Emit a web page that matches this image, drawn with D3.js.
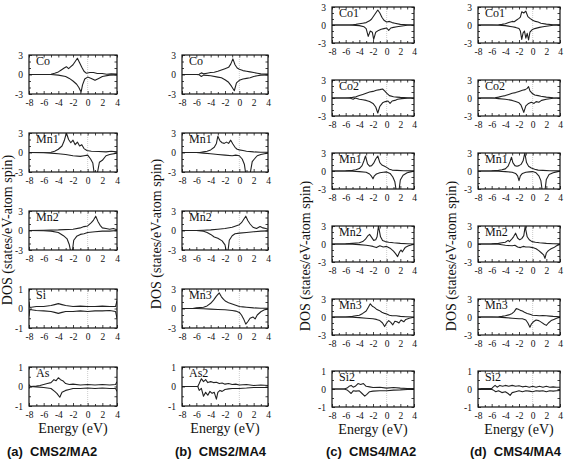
<!DOCTYPE html>
<html>
<head>
<meta charset="UTF-8">
<title>Site-projected DOS</title>
<style>
    body { margin: 0; background: #fff; }
    text { font-family: "Liberation Serif", "DejaVu Serif", serif; fill: #111; }
    .tick-lab { font-family: "Liberation Serif", serif; font-size: 9.5px; }
    .pname { font-size: 12px; }
    .xtitle { font-size: 14px; text-anchor: middle; }
    .ytitle { font-size: 14px; text-anchor: middle; }
    .cap { font-family: "Liberation Sans", Arial, sans-serif; font-weight: bold; font-size: 13px; }
</style>
</head>
<body>
<script src="https://cdn.jsdelivr.net/npm/d3@7"></script>
<svg id="svg" width="568" height="459"></svg>
<script>
    var svg = d3.select("#svg");

    const energyTicks = [-8, -6, -4, -2, 0, 2, 4];
    const energyMinor = [-7, -5, -3, -1, 1, 3];
    const dTicks = [-3, 0, 3], dMinor = [-2, -1, 1, 2];
    const spTicks = [-1, 0, 1], spMinor = [-0.5, 0.5];
    const captions = ["(a)\u00a0\u00a0CMS2/MA2", "(b)\u00a0\u00a0CMS2/MA4", "(c)\u00a0\u00a0CMS4/MA2", "(d)\u00a0\u00a0CMS4/MA4"];
    const xTitle = "Energy (eV)";
    const yTitle = "DOS (states/eV-atom spin)";

    // [energy, dos]; spin down is stored as plotted (negative)
    const A_Co_up = [[-8,0],[-6,0],[-5,0.05],[-4.5,0.2],[-4,0.4],[-3.6,0.7],[-3.2,1.0],[-2.9,1.2],[-2.6,0.9],[-2.3,1.2],[-2,1.5],[-1.7,2.0],[-1.4,2.5],[-1.1,1.8],[-0.8,1.1],[-0.5,0.5],[-0.2,0.2],[0.3,0.3],[0.8,0.3],[1.3,0.15],[2,0.15],[2.6,0.05],[3.2,0.1],[4,0.05]];
    const A_Co_dn = [[-8,0],[-5,0],[-4,-0.1],[-3,-0.3],[-2.5,-0.6],[-2,-1.0],[-1.5,-1.5],[-1.2,-2.0],[-0.9,-2.7],[-0.7,-1.6],[-0.4,-0.7],[0,-0.4],[0.5,-0.6],[1,-0.9],[1.5,-0.6],[2,-0.3],[3,-0.1],[4,-0.05]];
    const A_Mn1_up = [[-8,0],[-5,0.05],[-4.5,0.2],[-4,0.5],[-3.5,1.0],[-3.2,1.8],[-2.9,3.0],[-2.6,2.0],[-2.3,1.5],[-2,1.9],[-1.7,1.2],[-1.4,1.6],[-1.1,1.0],[-0.8,1.2],[-0.5,0.6],[-0.1,0.3],[0.5,0.2],[1.5,0.15],[2.5,0.1],[3.2,0.2],[4,0.1]];
    const A_Mn1_dn = [[-8,0],[-6,-0.05],[-5,-0.1],[-4,-0.2],[-3,-0.3],[-2,-0.5],[-1,-0.6],[-0.5,-0.5],[0,-0.4],[0.4,-1.0],[0.7,-1.6],[0.9,-3.3],[1.3,-3.3],[1.6,-1.5],[2,-1.2],[2.5,-0.5],[3,-0.3],[4,-0.1]];
    const A_Mn2_up = [[-8,0],[-6,0.05],[-4,0.1],[-2,0.2],[-1,0.4],[-0.5,0.6],[0,0.7],[0.5,1.2],[0.8,1.6],[1.1,2.2],[1.4,1.4],[1.7,0.8],[2,0.4],[2.5,0.3],[3,0.2],[3.5,0.3],[4,0.1]];
    const A_Mn2_dn = [[-8,0],[-6,-0.05],[-5,-0.1],[-4,-0.3],[-3.3,-0.8],[-2.8,-1.3],[-2.5,-2.2],[-2.3,-3.3],[-2.1,-3.3],[-1.9,-1.5],[-1.5,-0.9],[-1,-0.6],[-0.5,-0.5],[0,-0.3],[1,-0.2],[2,-0.1],[3,-0.1],[4,0]];
    const A_Si_up = [[-8,0.35],[-7.9,0.05],[-7,0.1],[-6,0.1],[-5,0.15],[-4.5,0.2],[-4,0.25],[-3.5,0.2],[-3,0.15],[-2,0.1],[-1,0.12],[0,0.1],[1,0.1],[2,0.12],[3,0.1],[3.8,0.1],[4,0.4]];
    const A_Si_dn = [[-8,-0.4],[-7.9,-0.05],[-7,-0.1],[-6,-0.12],[-5,-0.15],[-4.5,-0.2],[-4,-0.25],[-3.5,-0.2],[-3,-0.15],[-2,-0.15],[-1,-0.12],[0,-0.15],[1,-0.12],[2,-0.12],[3,-0.1],[3.8,-0.15],[4,-0.5]];
    const A_As_up = [[-8,0.1],[-7.8,0],[-7,0.02],[-6.5,0.05],[-6,0.1],[-5.5,0.15],[-5,0.2],[-4.6,0.35],[-4.3,0.3],[-4,0.45],[-3.7,0.35],[-3.4,0.3],[-3,0.15],[-2.5,0.1],[-2,0.12],[-1,0.08],[0,0.1],[1,0.08],[2,0.1],[3,0.08],[3.8,0.1],[4,0.25]];
    const A_As_dn = [[-8,-0.1],[-7.8,0],[-7,-0.02],[-6,-0.05],[-5,-0.1],[-4.5,-0.25],[-4.2,-0.35],[-3.8,-0.55],[-3.5,-0.3],[-3,-0.2],[-2.5,-0.15],[-2,-0.1],[-1,-0.1],[0,-0.08],[1,-0.1],[2,-0.08],[3,-0.1],[3.8,-0.1],[4,-0.25]];

    const B_Co_up = [[-8,0],[-6,0],[-5.6,0.05],[-5.3,0.25],[-5,0.1],[-4.5,0.2],[-4,0.3],[-3.5,0.35],[-3,0.5],[-2.5,0.7],[-2,0.9],[-1.5,1.1],[-1.2,1.6],[-0.9,2.4],[-0.6,1.5],[-0.3,1.0],[0,0.8],[0.5,0.6],[1,0.5],[1.5,0.4],[2,0.3],[2.5,0.2],[3,0.1],[4,0.05]];
    const B_Co_dn = [[-8,0],[-6,0],[-5.6,-0.05],[-5.3,-0.3],[-5,-0.1],[-4,-0.2],[-3,-0.4],[-2.5,-0.5],[-2,-0.8],[-1.5,-1.2],[-1.1,-1.8],[-0.7,-2.5],[-0.4,-1.3],[0,-0.9],[0.5,-0.7],[1,-0.6],[1.5,-0.5],[2,-0.3],[2.5,-0.2],[3,-0.1],[4,-0.05]];
    const B_Mn1_up = [[-8,0],[-5.5,0],[-5,0.1],[-4.5,0.2],[-4,0.4],[-3.5,0.8],[-3.2,1.4],[-3,2.5],[-2.7,1.8],[-2.4,1.5],[-2.1,1.4],[-1.8,1.6],[-1.5,1.4],[-1.2,1.9],[-0.9,1.3],[-0.6,0.8],[-0.3,0.5],[0,0.4],[0.5,0.3],[1,0.2],[2,0.1],[3,0.05],[4,0.05]];
    const B_Mn1_dn = [[-8,0],[-6,0],[-5,-0.1],[-4,-0.2],[-3,-0.3],[-2,-0.4],[-1,-0.5],[-0.5,-0.4],[0,-0.5],[0.4,-1.0],[0.7,-1.8],[0.9,-3.3],[1.5,-3.3],[1.8,-1.4],[2.1,-1.0],[2.5,-0.5],[3,-0.3],[3.5,-0.2],[4,-0.1]];
    const B_Mn2_up = [[-8,0],[-6,0],[-5,0.05],[-4,0.1],[-3,0.2],[-2,0.3],[-1,0.5],[-0.5,0.7],[0,0.9],[0.3,1.2],[0.6,1.7],[0.9,2.2],[1.2,1.5],[1.5,1.0],[1.9,0.5],[2.4,0.3],[2.9,0.6],[3.3,0.4],[3.7,0.3],[4,0.2]];
    const B_Mn2_dn = [[-8,0],[-6,0],[-5,-0.1],[-4.5,-0.3],[-4,-0.6],[-3.5,-1.0],[-3,-1.2],[-2.4,-1.6],[-2.0,-2.2],[-1.8,-3.3],[-1.6,-3.3],[-1.4,-1.5],[-1.0,-0.8],[-0.6,-0.5],[0,-0.4],[1,-0.3],[2,-0.2],[3,-0.1],[4,-0.05]];
    const B_Mn3_up = [[-8,0],[-6.5,0],[-6,0.1],[-5,0.2],[-4.5,0.4],[-4,0.8],[-3.6,1.3],[-3.2,1.9],[-2.8,2.4],[-2.5,1.8],[-2.2,1.4],[-1.9,1.1],[-1.5,0.9],[-1,0.7],[-0.5,0.5],[0,0.3],[0.5,0.25],[1,0.2],[2,0.1],[3,0.05],[4,0.05]];
    const B_Mn3_dn = [[-8,0],[-6,0],[-5,-0.05],[-4,-0.1],[-3,-0.15],[-2,-0.2],[-1,-0.3],[-0.5,-0.4],[0,-0.6],[0.3,-1.0],[0.6,-1.6],[0.9,-2.4],[1.2,-2.0],[1.5,-1.5],[1.9,-1.3],[2.2,-1.6],[2.5,-1.0],[3,-0.5],[3.5,-0.2],[4,-0.1]];
    const B_As2_up = [[-8,0],[-5.8,0],[-5.6,0.15],[-5.3,0.4],[-5.0,0.25],[-4.7,0.35],[-4.4,0.2],[-4,0.25],[-3.6,0.2],[-3.2,0.22],[-2.8,0.15],[-2.4,0.18],[-2,0.12],[-1.5,0.15],[-1,0.1],[-0.5,0.12],[0,0.08],[1,0.1],[2,0.05],[3,0.08],[4,0.05]];
    const B_As2_dn = [[-8,0],[-5.8,0],[-5.6,-0.2],[-5.3,-0.1],[-5.0,-0.5],[-4.7,-0.3],[-4.4,-0.45],[-4.1,-0.25],[-3.8,-0.35],[-3.5,-0.3],[-3.2,-0.65],[-3.0,-0.3],[-2.7,-0.2],[-2.4,-0.25],[-2,-0.15],[-1.5,-0.12],[-1,-0.1],[0,-0.1],[1,-0.08],[2,-0.05],[3,-0.05],[4,-0.05]];

    const C_Co1_up = [[-8,0],[-5.5,0],[-5,0.05],[-4.5,0.1],[-4,0.2],[-3.5,0.3],[-3,0.4],[-2.5,0.7],[-2.2,1.0],[-1.9,1.5],[-1.6,2.0],[-1.3,2.5],[-1.0,2.0],[-0.7,1.3],[-0.4,0.8],[0,0.5],[0.4,0.6],[0.8,0.4],[1.2,0.3],[2,0.1],[3,0.05],[4,0]];
    const C_Co1_dn = [[-8,0],[-5.5,0],[-5,-0.05],[-4,-0.1],[-3.3,-0.3],[-3,-0.6],[-2.7,-1.9],[-2.4,-1.0],[-2.1,-1.2],[-1.9,-2.4],[-1.6,-1.2],[-1.2,-0.9],[-0.8,-0.7],[-0.4,-0.6],[0,-0.5],[0.3,-0.9],[0.6,-0.5],[1,-0.4],[1.5,-0.3],[2,-0.2],[3,-0.05],[4,0]];
    const C_Co2_up = [[-8,0],[-6,0],[-5.5,0.05],[-5,0.1],[-4.5,0.2],[-4,0.4],[-3.5,0.6],[-3,0.8],[-2.5,1.0],[-2,1.1],[-1.5,1.3],[-1,1.4],[-0.6,1.5],[-0.3,1.2],[0,0.8],[0.4,0.4],[1,0.2],[1.5,0.15],[2,0.1],[3,0.05],[4,0]];
    const C_Co2_dn = [[-8,0],[-6,0],[-5.3,-0.05],[-4.9,-0.2],[-4.6,0],[-4,-0.2],[-3.5,-0.3],[-3,-0.4],[-2.5,-0.6],[-2,-0.9],[-1.6,-1.5],[-1.3,-2.5],[-1.0,-1.4],[-0.6,-0.8],[-0.2,-0.6],[0.2,-0.5],[0.5,-0.9],[0.8,-0.5],[1.2,-0.4],[1.6,-0.2],[2.2,-0.1],[3,-0.05],[4,0]];
    const C_Mn1_up = [[-8,0],[-6,0.02],[-5,0.1],[-4.5,0.2],[-4,0.4],[-3.6,0.9],[-3.3,1.8],[-3.1,2.5],[-2.8,1.2],[-2.5,0.8],[-2.2,0.9],[-1.9,1.3],[-1.6,2.0],[-1.3,2.5],[-1.0,1.4],[-0.7,1.0],[-0.3,0.8],[0,0.6],[0.4,0.3],[0.8,0.15],[1.5,0.1],[2.5,0.05],[4,0.02]];
    const C_Mn1_dn = [[-8,0],[-6,0],[-5,-0.05],[-4,-0.1],[-3,-0.2],[-2.5,-0.5],[-2.2,-0.9],[-2.0,-1.3],[-1.8,-0.8],[-1.5,-0.5],[-1,-0.3],[-0.5,-0.2],[0,-0.15],[0.5,-0.4],[0.9,-1.0],[1.2,-1.8],[1.4,-3.3],[1.8,-3.3],[2.0,-1.5],[2.4,-0.7],[3,-0.3],[3.5,-0.15],[4,-0.05]];
    const C_Mn2_up = [[-8,0],[-6,0.02],[-5,0.1],[-4,0.2],[-3.5,0.4],[-3.1,0.8],[-2.8,1.3],[-2.5,1.6],[-2.2,1.1],[-1.9,0.6],[-1.6,0.7],[-1.4,1.2],[-1.2,3.0],[-0.9,1.2],[-0.6,0.6],[-0.2,0.4],[0.3,0.3],[1,0.2],[2,0.1],[3,0.05],[4,0]];
    const C_Mn2_dn = [[-8,0],[-6,0],[-5,-0.05],[-4,-0.1],[-3,-0.2],[-2.5,-0.3],[-2,-0.4],[-1.5,-0.6],[-1,-0.3],[-0.5,-0.5],[0,-0.4],[0.5,-0.7],[1,-1.2],[1.3,-1.6],[1.6,-2.1],[1.9,-1.3],[2.1,-1.0],[2.3,-1.3],[2.7,-0.6],[3.2,-0.3],[3.6,-0.15],[4,-0.05]];
    const C_Mn3_up = [[-8,0],[-6,0],[-5,0.1],[-4.5,0.2],[-4,0.3],[-3.5,0.6],[-3,1.0],[-2.7,1.6],[-2.4,2.2],[-2.1,1.8],[-1.8,1.6],[-1.5,1.3],[-1.1,1.1],[-0.7,0.8],[-0.3,0.6],[0,0.5],[0.4,0.3],[0.8,0.2],[1.4,0.2],[2,0.1],[2.8,0.05],[4,0]];
    const C_Mn3_dn = [[-8,0],[-6,0],[-5,-0.05],[-4,-0.1],[-3,-0.2],[-2,-0.3],[-1.5,-0.4],[-1,-0.6],[-0.6,-1.0],[-0.3,-1.6],[0,-1.0],[0.3,-0.6],[0.6,-0.9],[0.9,-1.3],[1.2,-0.7],[1.5,-0.8],[1.8,-1.0],[2.1,-0.5],[2.5,-0.8],[2.8,-0.4],[3.3,-0.2],[4,-0.05]];
    const C_Si2_up = [[-8,0],[-6.2,0],[-5.8,0.05],[-5.5,0.15],[-5.2,0.2],[-4.9,0.1],[-4.6,0.15],[-4.2,0.3],[-3.8,0.25],[-3.4,0.3],[-3,0.15],[-2.5,0.12],[-2,0.08],[-1,0.1],[0,0.05],[1,0.08],[2,0.05],[3,0.03],[4,0.02]];
    const C_Si2_dn = [[-8,0],[-6.2,0],[-5.8,-0.05],[-5.5,-0.15],[-5.2,-0.25],[-4.9,-0.1],[-4.5,-0.12],[-4,-0.1],[-3.6,-0.25],[-3.2,-0.4],[-2.9,-0.3],[-2.5,-0.15],[-2,-0.12],[-1,-0.1],[0,-0.1],[1,-0.06],[2,-0.05],[3,-0.03],[4,-0.02]];

    const D_Co1_up = [[-8,0],[-6,0],[-5,0.05],[-4.5,0.1],[-4,0.2],[-3.5,0.4],[-3,0.6],[-2.7,0.55],[-2.4,0.8],[-2,1.1],[-1.8,1.3],[-1.6,2.2],[-1.3,2.0],[-1.0,2.3],[-0.7,1.4],[-0.4,1.1],[0,0.8],[0.4,0.6],[0.8,0.5],[1.2,0.3],[2,0.15],[3,0.05],[4,0.02]];
    const D_Co1_dn = [[-8,0],[-6,0],[-5,-0.05],[-4,-0.1],[-3,-0.3],[-2.5,-0.4],[-2,-0.6],[-1.8,-1.0],[-1.6,-2.4],[-1.4,-1.3],[-1.2,-1.0],[-1.0,-2.2],[-0.8,-1.4],[-0.6,-2.5],[-0.4,-1.2],[-0.1,-0.8],[0.3,-0.6],[1,-0.4],[1.5,-0.3],[2,-0.2],[3,-0.05],[4,0]];
    const D_Co2_up = [[-8,0],[-6,0],[-5.5,0.05],[-5,0.15],[-4.5,0.3],[-4,0.4],[-3.5,0.6],[-3,0.8],[-2.5,0.9],[-2,1.1],[-1.5,1.3],[-1.1,1.4],[-0.8,1.6],[-0.6,1.9],[-0.4,1.2],[-0.1,0.8],[0.3,0.5],[0.8,0.4],[1.2,0.3],[2,0.15],[3,0.05],[4,0]];
    const D_Co2_dn = [[-8,0],[-6,0],[-5.5,-0.05],[-5,-0.1],[-4,-0.2],[-3,-0.4],[-2.5,-0.6],[-2,-0.8],[-1.7,-1.2],[-1.5,-1.8],[-1.3,-2.4],[-1.0,-1.3],[-0.6,-0.9],[-0.2,-0.7],[0.2,-0.9],[0.5,-0.6],[0.9,-0.7],[1.3,-0.4],[2,-0.2],[3,-0.05],[4,0]];
    const D_Mn1_up = [[-8,0],[-6,0.02],[-5,0.1],[-4.5,0.2],[-4,0.35],[-3.6,0.8],[-3.3,1.6],[-3.1,2.3],[-2.9,1.4],[-2.6,0.9],[-2.3,0.8],[-2.0,0.9],[-1.7,1.1],[-1.4,1.7],[-1.15,3.0],[-0.9,1.4],[-0.6,0.8],[-0.2,0.5],[0.3,0.3],[0.8,0.15],[1.5,0.1],[2.5,0.05],[4,0.02]];
    const D_Mn1_dn = [[-8,0],[-6,0],[-5,-0.05],[-4,-0.1],[-3,-0.2],[-2.5,-0.4],[-2.2,-0.8],[-2.0,-1.6],[-1.8,-0.8],[-1.5,-0.4],[-1,-0.2],[-0.5,-0.15],[0,-0.1],[0.5,-0.3],[0.9,-0.8],[1.2,-1.6],[1.4,-3.3],[1.8,-3.3],[2.0,-1.4],[2.4,-0.6],[3,-0.3],[3.5,-0.15],[4,-0.05]];
    const D_Mn2_up = [[-8,0],[-6,0.02],[-5,0.1],[-4.5,0.2],[-4,0.3],[-3.6,0.6],[-3.4,0.4],[-3,0.9],[-2.8,1.2],[-2.5,1.8],[-2.2,1.0],[-1.9,0.7],[-1.6,0.9],[-1.3,1.4],[-1.1,2.9],[-0.8,1.2],[-0.5,0.7],[-0.1,0.4],[0.4,0.3],[1,0.2],[2,0.1],[3,0.05],[4,0.02]];
    const D_Mn2_dn = [[-8,0],[-6,0],[-5,-0.05],[-4,-0.2],[-3,-0.3],[-2.6,-0.2],[-2.2,-0.5],[-1.8,-0.6],[-1.4,-0.4],[-1,-0.5],[-0.5,-0.5],[0,-0.6],[0.5,-0.8],[0.9,-1.1],[1.3,-1.5],[1.6,-1.8],[1.8,-2.4],[2.0,-1.5],[2.3,-1.1],[2.7,-0.8],[3.1,-0.6],[3.5,-0.3],[4,-0.05]];
    const D_Mn3_up = [[-8,0],[-6,0],[-5,0.05],[-4.5,0.1],[-4,0.2],[-3.5,0.35],[-3,0.6],[-2.7,0.9],[-2.4,1.4],[-2.1,1.3],[-1.8,1.1],[-1.5,1.0],[-1.2,0.8],[-0.8,0.6],[-0.4,0.45],[0,0.3],[0.5,0.25],[1,0.2],[1.5,0.25],[2,0.2],[2.5,0.15],[3,0.1],[4,0.05]];
    const D_Mn3_dn = [[-8,0],[-6,0],[-5,-0.05],[-4,-0.1],[-3,-0.2],[-2,-0.3],[-1.5,-0.3],[-1,-0.5],[-0.7,-1.0],[-0.4,-1.7],[-0.2,-1.2],[0.1,-0.8],[0.5,-0.5],[0.9,-0.6],[1.3,-0.9],[1.7,-1.2],[2.0,-1.4],[2.3,-1.0],[2.7,-0.6],[3.1,-0.4],[3.5,-0.2],[4,-0.05]];
    const D_Si2_up = [[-8,0],[-7.5,0.02],[-6,0.02],[-5.8,0.1],[-5.5,0.2],[-5.2,0.1],[-4.8,0.2],[-4.4,0.15],[-4,0.2],[-3.5,0.15],[-3,0.2],[-2.5,0.15],[-2,0.18],[-1.5,0.12],[-1,0.15],[-0.5,0.1],[0,0.15],[0.5,0.1],[1,0.15],[1.5,0.1],[2,0.15],[2.5,0.1],[3,0.12],[3.5,0.1],[4,0.1]];
    const D_Si2_dn = [[-8,0],[-7.5,-0.02],[-6,-0.02],[-5.8,-0.05],[-5.4,-0.15],[-5,-0.1],[-4.5,-0.2],[-4,-0.15],[-3.6,-0.25],[-3.3,-0.35],[-3,-0.2],[-2.5,-0.15],[-2,-0.1],[-1.5,-0.15],[-1,-0.1],[-0.5,-0.12],[0,-0.15],[0.5,-0.1],[1,-0.12],[1.5,-0.1],[2,-0.15],[2.5,-0.1],[3,-0.12],[3.5,-0.1],[4,-0.08]];

    var cols = [
        { x0: 29, x1: 117, tops: [55, 133, 211, 289, 367], h: 39, capX: 7, yLab: [12, 230],
          panels: [["Co", 3, A_Co_up, A_Co_dn], ["Mn1", 3, A_Mn1_up, A_Mn1_dn], ["Mn2", 3, A_Mn2_up, A_Mn2_dn], ["Si", 1, A_Si_up, A_Si_dn], ["As", 1, A_As_up, A_As_dn]] },
        { x0: 182, x1: 268, tops: [55, 133, 211, 289, 367], h: 39, capX: 175, yLab: [161, 234],
          panels: [["Co", 3, B_Co_up, B_Co_dn], ["Mn1", 3, B_Mn1_up, B_Mn1_dn], ["Mn2", 3, B_Mn2_up, B_Mn2_dn], ["Mn3", 3, B_Mn3_up, B_Mn3_dn], ["As2", 1, B_As2_up, B_As2_dn]] },
        { x0: 332, x1: 414, tops: [7, 80, 153, 226, 299, 371], h: 36, capX: 326, yLab: [310, 256],
          panels: [["Co1", 3, C_Co1_up, C_Co1_dn], ["Co2", 3, C_Co2_up, C_Co2_dn], ["Mn1", 3, C_Mn1_up, C_Mn1_dn], ["Mn2", 3, C_Mn2_up, C_Mn2_dn], ["Mn3", 3, C_Mn3_up, C_Mn3_dn], ["Si2", 1, C_Si2_up, C_Si2_dn]] },
        { x0: 478, x1: 560, tops: [7, 80, 153, 226, 299, 371], h: 36, capX: 470, yLab: [456, 256],
          panels: [["Co1", 3, D_Co1_up, D_Co1_dn], ["Co2", 3, D_Co2_up, D_Co2_dn], ["Mn1", 3, D_Mn1_up, D_Mn1_dn], ["Mn2", 3, D_Mn2_up, D_Mn2_dn], ["Mn3", 3, D_Mn3_up, D_Mn3_dn], ["Si2", 1, D_Si2_up, D_Si2_dn]] }
    ];

    var clipN = 0;

    function tidy(sel) {
        sel.select(".domain").remove();
        sel.selectAll("line").attr("stroke", "#111").attr("stroke-width", 0.8);
        sel.selectAll("text").attr("class", "tick-lab").attr("fill", "#111");
    }

    function drawPanel(p, x0, x1, y0, h) {
        var lim = p[1];
        var x = d3.scaleLinear().domain([-8, 4]).range([x0, x1]);
        var y = d3.scaleLinear().domain([-lim, lim]).range([y0 + h, y0]);
        var maj = lim == 3 ? dTicks : spTicks, mnr = lim == 3 ? dMinor : spMinor;
        var g = svg.append("g");
        var id = "clip" + (clipN++);
        svg.append("clipPath").attr("id", id).append("rect")
            .attr("x", x0).attr("y", y0).attr("width", x1 - x0).attr("height", h);

        // Fermi level
        g.append("line").attr("x1", x(0)).attr("x2", x(0)).attr("y1", y0).attr("y2", y0 + h)
            .attr("stroke", "#aaa").attr("stroke-width", 0.6).attr("stroke-dasharray", "1,1");

        var line = d3.line().x(d => x(d[0])).y(d => y(d[1]));
        [p[2], p[3]].forEach(function (s) {
            g.append("path").attr("d", line(s)).attr("fill", "none").attr("stroke", "#222")
                .attr("stroke-width", 1.1).attr("stroke-linejoin", "round").attr("clip-path", "url(#" + id + ")");
        });

        var fmt = d => String(d);
        g.append("g").attr("transform", "translate(0," + (y0 + h) + ")")
            .call(d3.axisBottom(x).tickValues(energyTicks).tickSize(-3).tickPadding(5).tickFormat(fmt)).call(tidy);
        g.append("g").attr("transform", "translate(0," + (y0 + h) + ")")
            .call(d3.axisBottom(x).tickValues(energyMinor).tickSize(-2).tickFormat("")).call(tidy);
        g.append("g").attr("transform", "translate(0," + y0 + ")")
            .call(d3.axisTop(x).tickValues(energyTicks.concat(energyMinor)).tickSize(-2.5).tickFormat("")).call(tidy);
        g.append("g").attr("transform", "translate(" + x0 + ",0)")
            .call(d3.axisLeft(y).tickValues(maj).tickSize(-3).tickPadding(6).tickFormat(fmt)).call(tidy);
        g.append("g").attr("transform", "translate(" + x0 + ",0)")
            .call(d3.axisLeft(y).tickValues(mnr).tickSize(-2).tickFormat("")).call(tidy);
        g.append("g").attr("transform", "translate(" + x1 + ",0)")
            .call(d3.axisRight(y).tickValues(maj.concat(mnr)).tickSize(-2.5).tickFormat("")).call(tidy);

        g.append("rect").attr("x", x0).attr("y", y0).attr("width", x1 - x0).attr("height", h)
            .attr("fill", "none").attr("stroke", "#111").attr("stroke-width", 1.2);

        g.append("text").attr("class", "pname").attr("x", x0 + 7).attr("y", y0 + 10).text(p[0]);
    }

    cols.forEach(function (c) {
        c.panels.forEach(function (p, i) { drawPanel(p, c.x0, c.x1, c.tops[i], c.h); });
        var last = c.tops[c.tops.length - 1] + c.h;
        svg.append("text").attr("class", "xtitle").attr("x", (c.x0 + c.x1) / 2).attr("y", last + 27).text(xTitle);
        svg.append("text").attr("class", "ytitle")
            .attr("transform", "translate(" + c.yLab[0] + "," + c.yLab[1] + ") rotate(-90)").text(yTitle);
    });

    captions.forEach(function (t, i) {
        svg.append("text").attr("class", "cap").attr("x", cols[i].capX).attr("y", 456).text(t);
    });
</script>
</body>
</html>
